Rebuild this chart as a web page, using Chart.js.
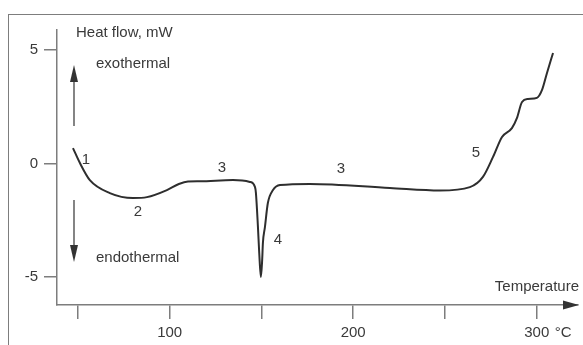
<!DOCTYPE html>
<html lang="en">
<head>
<meta charset="UTF-8">
<title>DSC curve</title>
<script src="https://cdn.jsdelivr.net/npm/chart.js"></script>
<style>
    body { margin: 0; background: #fff; }
    #box { position: relative; width: 583px; height: 345px; overflow: hidden; }
    #frame {
        position: absolute; left: 8px; top: 14px; width: 600px; height: 400px;
        border-left: 1.5px solid #7d7d7d; border-top: 1.5px solid #7d7d7d;
    }
    canvas { position: absolute; left: 0; top: 0; }
</style>
</head>
<body>
<div id="box">
    <div id="frame"></div>
    <canvas id="dsc" width="583" height="345"></canvas>
</div>
<script>
// curve: temperature (°C) and heat flow (mW)
var temps = [47.3, 51.1, 56.5, 67.4, 80.0, 87.6, 98.5, 105.0, 110.0, 116.5, 134.5, 143.7, 146.5, 147.0, 148.1, 148.8, 149.7,
    150.4, 150.8, 151.9, 153.5, 156.3, 160.1, 176.4, 220.0, 247.3, 263.6, 270.7, 276.2, 281.1, 286.5, 289.2,
    292.0, 295.2, 300.1, 302.9, 305.6, 308.9];
var heatFlow = [0.68, 0.02, -0.73, -1.30, -1.52, -1.48, -1.17, -0.90, -0.79, -0.78, -0.73, -0.81, -1.04, -1.30, -2.80, -3.94, -5.0,
    -4.25, -3.50, -2.80, -1.74, -1.17, -0.95, -0.90, -1.08, -1.19, -1.04, -0.59, 0.29, 1.17, 1.56, 2.00,
    2.71, 2.84, 2.89, 3.24, 3.99, 4.87];

var xTicks = [50, 100, 150, 200, 250, 300];
var xTickLabels = ['', '100', '', '200', '', '300'];
var yTicks = [5, 0, -5];

// numbered events on the curve
var peakNames = ['1', '2', '3', '4', '3', '5'];
var peakTemps = [54.4, 82.7, 128.5, 159.0, 193.3, 266.9];
var peakFlows = [0.15, -2.14, -0.2, -3.37, -0.24, 0.46];

var familia = '"Liberation Sans", Arial, sans-serif';
var fonte = '15px ' + familia;
var cinza = '#7d7d7d';

var pontos = [];
for (var i = 0; i < temps.length; i++) {
    pontos.push({ x: temps[i], y: heatFlow[i] });
}

function seta(ctx, x, y, dir) {
    // small filled triangle, dir: 'up', 'down', 'right'
    ctx.beginPath();
    if (dir == 'up') { ctx.moveTo(x, y); ctx.lineTo(x - 4, y + 17); ctx.lineTo(x + 4, y + 17); }
    if (dir == 'down') { ctx.moveTo(x, y); ctx.lineTo(x - 4, y - 17); ctx.lineTo(x + 4, y - 17); }
    if (dir == 'right') { ctx.moveTo(x, y); ctx.lineTo(x - 16, y - 4.5); ctx.lineTo(x - 16, y + 4.5); }
    ctx.closePath();
    ctx.fill();
}

var extras = {
    id: 'extras',
    afterDraw: function (chart) {
        var ctx = chart.ctx;
        var sx = chart.scales.x, sy = chart.scales.y;
        var area = chart.chartArea;
        ctx.save();
        ctx.fillStyle = '#333';
        ctx.strokeStyle = '#444';
        ctx.lineWidth = 1.3;

        // x axis arrow head
        seta(ctx, area.right + 1, area.bottom, 'right');

        // exo / endo arrows
        ctx.beginPath();
        ctx.moveTo(74, 80); ctx.lineTo(74, 126);
        ctx.moveTo(74, 200); ctx.lineTo(74, 246);
        ctx.stroke();
        seta(ctx, 74, 65, 'up');
        seta(ctx, 74, 262, 'down');

        ctx.font = fonte;
        ctx.fillStyle = '#3a3a3a';
        ctx.textBaseline = 'middle';
        ctx.textAlign = 'left';
        ctx.fillText('Heat flow, mW', 76, 33);
        ctx.fillText('exothermal', 96, 64);
        ctx.fillText('endothermal', 96, 258);
        ctx.textAlign = 'right';
        ctx.fillText('Temperature', 579, 287);

        // unit after the last x label
        ctx.textAlign = 'left';
        ctx.fillText('°C', sx.getPixelForValue(300) + 18, 333);

        // event numbers
        ctx.textAlign = 'center';
        for (var i = 0; i < peakNames.length; i++) {
            ctx.fillText(peakNames[i], sx.getPixelForValue(peakTemps[i]), sy.getPixelForValue(peakFlows[i]));
        }
        ctx.restore();
    }
};

var grafico = new Chart(document.getElementById('dsc').getContext('2d'), {
    type: 'line',
    data: {
        datasets: [{
            data: pontos,
            borderColor: '#2e2e2e',
            borderWidth: 2,
            pointRadius: 0,
            cubicInterpolationMode: 'monotone',
            fill: false
        }]
    },
    options: {
        responsive: false,
        animation: false,
        layout: { padding: { top: 30, right: 5, left: 0, bottom: 0 } },
        plugins: { legend: { display: false }, tooltip: { enabled: false } },
        scales: {
            x: {
                type: 'linear',
                min: 38.6,
                max: 322.5,
                afterBuildTicks: function (scale) {
                    scale.ticks = xTicks.map(function (v) { return { value: v }; });
                },
                afterFit: function (scale) { scale.height = 40; },
                grid: { drawOnChartArea: false, drawTicks: true, tickLength: 14, color: cinza, lineWidth: 1.5 },
                border: { color: cinza, width: 1.5 },
                ticks: {
                    autoSkip: false,
                    maxRotation: 0,
                    padding: 5,
                    color: '#3a3a3a',
                    font: { family: familia, size: 15 },
                    callback: function (value, index) { return xTickLabels[index]; }
                }
            },
            y: {
                type: 'linear',
                min: -6.23,
                max: 5.88,
                afterBuildTicks: function (scale) {
                    scale.ticks = yTicks.map(function (v) { return { value: v }; });
                },
                afterFit: function (scale) { scale.width = 57; },
                grid: { drawOnChartArea: false, drawTicks: true, tickLength: 13, color: cinza, lineWidth: 1.5 },
                border: { color: cinza, width: 1.5 },
                ticks: {
                    padding: 6,
                    color: '#3a3a3a',
                    font: { family: familia, size: 15 },
                    callback: function (value) { return String(value); }
                }
            }
        }
    },
    plugins: [extras]
});
</script>
</body>
</html>
